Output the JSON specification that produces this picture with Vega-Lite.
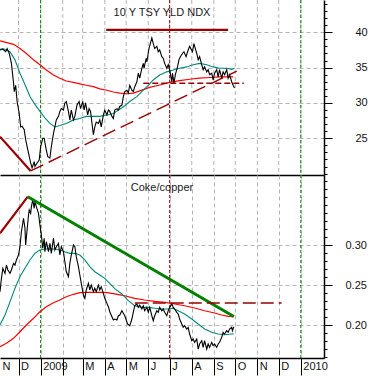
{
"$schema": "https://vega.github.io/schema/vega-lite/v6.json",
"padding": 0,
"spacing": 0,
"config": {"view": {"stroke": null}, "font": "Liberation Sans"},
"datasets": {
"vl": [{"d":"2009-01-01","k":"year"},{"d":"2010-01-01","k":"year"},{"d":"2009-07-01","k":"mid"}],
"months": [{"d":"2008-12-01"},{"d":"2009-01-01"},{"d":"2009-02-01"},{"d":"2009-03-01"},{"d":"2009-04-01"},{"d":"2009-05-01"},{"d":"2009-06-01"},{"d":"2009-07-01"},{"d":"2009-08-01"},{"d":"2009-09-01"},{"d":"2009-10-01"},{"d":"2009-11-01"},{"d":"2009-12-01"},{"d":"2010-01-01"}],
"t_px": [
{"d":"2008-11-05","v":37.5},{"d":"2008-11-09","v":37.6},{"d":"2008-11-13","v":37.25},{"d":"2008-11-15","v":37.7},{"d":"2008-11-18","v":37.0},{"d":"2008-11-21","v":35.6},{"d":"2008-11-24","v":32.8},{"d":"2008-11-25","v":31.6},{"d":"2008-11-27","v":32.5},{"d":"2008-11-29","v":30.2},
{"d":"2008-12-02","v":28.5},{"d":"2008-12-04","v":26.6},{"d":"2008-12-06","v":26.7},{"d":"2008-12-09","v":26.2},{"d":"2008-12-11","v":24.8},{"d":"2008-12-15","v":22.9},{"d":"2008-12-18","v":21.5},{"d":"2008-12-20","v":20.8},{"d":"2008-12-23","v":21.7},{"d":"2008-12-24","v":21.0},{"d":"2008-12-27","v":21.5},{"d":"2008-12-30","v":21.9},
{"d":"2009-01-01","v":23.8},{"d":"2009-01-04","v":25.0},{"d":"2009-01-06","v":25.0},{"d":"2009-01-08","v":23.8},{"d":"2009-01-11","v":22.4},{"d":"2009-01-14","v":22.2},{"d":"2009-01-16","v":23.8},{"d":"2009-01-19","v":25.7},{"d":"2009-01-21","v":26.6},{"d":"2009-01-23","v":27.6},{"d":"2009-01-26","v":28.1},{"d":"2009-01-28","v":28.8},{"d":"2009-01-30","v":29.2},
{"d":"2009-02-02","v":29.0},{"d":"2009-02-04","v":30.0},{"d":"2009-02-06","v":30.2},{"d":"2009-02-09","v":28.8},{"d":"2009-02-11","v":27.6},{"d":"2009-02-13","v":29.0},{"d":"2009-02-16","v":27.6},{"d":"2009-02-18","v":28.1},{"d":"2009-02-21","v":29.7},{"d":"2009-02-24","v":30.2},{"d":"2009-02-26","v":29.2},
{"d":"2009-03-01","v":30.2},{"d":"2009-03-03","v":29.0},{"d":"2009-03-05","v":30.0},{"d":"2009-03-08","v":28.3},{"d":"2009-03-10","v":29.2},{"d":"2009-03-12","v":28.8},{"d":"2009-03-16","v":25.5},{"d":"2009-03-18","v":26.6},{"d":"2009-03-20","v":27.3},{"d":"2009-03-23","v":27.1},{"d":"2009-03-25","v":27.6},{"d":"2009-03-27","v":26.6},{"d":"2009-03-30","v":28.3},
{"d":"2009-04-01","v":29.0},{"d":"2009-04-04","v":28.3},{"d":"2009-04-06","v":29.0},{"d":"2009-04-08","v":28.8},{"d":"2009-04-11","v":28.1},{"d":"2009-04-13","v":27.8},{"d":"2009-04-15","v":29.0},{"d":"2009-04-18","v":29.2},{"d":"2009-04-20","v":29.0},{"d":"2009-04-22","v":29.5},{"d":"2009-04-25","v":29.7},{"d":"2009-04-27","v":30.9},{"d":"2009-04-29","v":31.6},
{"d":"2009-05-02","v":31.8},{"d":"2009-05-04","v":31.4},{"d":"2009-05-06","v":32.5},{"d":"2009-05-09","v":31.8},{"d":"2009-05-11","v":31.6},{"d":"2009-05-13","v":32.3},{"d":"2009-05-16","v":33.0},{"d":"2009-05-18","v":34.2},{"d":"2009-05-20","v":33.5},{"d":"2009-05-23","v":34.9},{"d":"2009-05-25","v":35.6},{"d":"2009-05-26","v":34.9},{"d":"2009-05-29","v":36.3},{"d":"2009-05-30","v":35.8},
{"d":"2009-06-02","v":37.7},{"d":"2009-06-06","v":39.2},{"d":"2009-06-08","v":38.4},{"d":"2009-06-10","v":37.7},{"d":"2009-06-13","v":38.0},{"d":"2009-06-15","v":37.25},{"d":"2009-06-17","v":37.5},{"d":"2009-06-20","v":36.55},{"d":"2009-06-22","v":36.3},{"d":"2009-06-24","v":35.6},{"d":"2009-06-27","v":34.9},{"d":"2009-06-29","v":35.4},
{"d":"2009-07-01","v":34.7},{"d":"2009-07-04","v":33.0},{"d":"2009-07-05","v":34.2},{"d":"2009-07-07","v":32.8},{"d":"2009-07-09","v":34.0},{"d":"2009-07-12","v":35.1},{"d":"2009-07-14","v":36.1},{"d":"2009-07-16","v":36.55},{"d":"2009-07-19","v":37.0},{"d":"2009-07-21","v":37.25},{"d":"2009-07-24","v":36.55},{"d":"2009-07-27","v":37.5},{"d":"2009-07-29","v":38.0},
{"d":"2009-08-02","v":37.25},{"d":"2009-08-04","v":38.4},{"d":"2009-08-06","v":37.7},{"d":"2009-08-08","v":37.0},{"d":"2009-08-10","v":36.1},{"d":"2009-08-12","v":36.55},{"d":"2009-08-15","v":35.4},{"d":"2009-08-17","v":34.7},{"d":"2009-08-19","v":35.1},{"d":"2009-08-22","v":34.4},{"d":"2009-08-24","v":34.7},{"d":"2009-08-26","v":34.0},{"d":"2009-08-29","v":34.2},{"d":"2009-08-31","v":33.25},
{"d":"2009-09-02","v":34.2},{"d":"2009-09-05","v":34.7},{"d":"2009-09-07","v":33.7},{"d":"2009-09-09","v":34.7},{"d":"2009-09-12","v":33.5},{"d":"2009-09-14","v":34.4},{"d":"2009-09-16","v":34.0},{"d":"2009-09-19","v":34.7},{"d":"2009-09-21","v":33.5},{"d":"2009-09-23","v":34.0},{"d":"2009-09-26","v":33.0},{"d":"2009-09-28","v":32.5},{"d":"2009-09-30","v":32.1}
],
"t_ma50": [
{"d":"2008-11-05","v":37.6},{"d":"2008-11-09","v":37.7},{"d":"2008-11-19","v":37.25},{"d":"2008-11-26","v":36.1},{"d":"2008-12-03","v":34.2},{"d":"2008-12-10","v":32.6},{"d":"2008-12-17","v":30.9},{"d":"2008-12-24","v":29.8},{"d":"2008-12-31","v":28.8},{"d":"2009-01-07","v":27.9},{"d":"2009-01-14","v":27.1},{"d":"2009-01-21","v":26.6},{"d":"2009-01-28","v":26.8},{"d":"2009-02-06","v":27.1},{"d":"2009-02-16","v":27.6},{"d":"2009-02-25","v":27.8},{"d":"2009-03-06","v":28.1},{"d":"2009-03-16","v":28.1},{"d":"2009-03-25","v":28.1},{"d":"2009-04-04","v":28.3},{"d":"2009-04-13","v":28.5},{"d":"2009-04-22","v":29.1},{"d":"2009-04-29","v":29.6},{"d":"2009-05-06","v":30.2},{"d":"2009-05-16","v":30.9},{"d":"2009-05-25","v":31.8},{"d":"2009-06-01","v":32.5},{"d":"2009-06-08","v":33.25},{"d":"2009-06-17","v":33.96},{"d":"2009-06-27","v":34.4},{"d":"2009-07-06","v":34.67},{"d":"2009-07-15","v":34.9},{"d":"2009-07-25","v":35.1},{"d":"2009-08-03","v":35.4},{"d":"2009-08-12","v":35.6},{"d":"2009-08-22","v":35.4},{"d":"2009-08-31","v":35.1},{"d":"2009-09-09","v":34.9},{"d":"2009-09-19","v":34.9},{"d":"2009-09-26","v":34.76},{"d":"2009-09-30","v":34.9}
],
"t_ma200": [
{"d":"2008-11-05","v":38.8},{"d":"2008-11-24","v":38.3},{"d":"2008-12-03","v":37.7},{"d":"2008-12-12","v":37.0},{"d":"2008-12-22","v":36.1},{"d":"2008-12-31","v":35.4},{"d":"2009-01-09","v":34.67},{"d":"2009-01-19","v":33.96},{"d":"2009-01-28","v":33.5},{"d":"2009-02-06","v":33.1},{"d":"2009-02-16","v":32.9},{"d":"2009-02-25","v":32.7},{"d":"2009-03-06","v":32.5},{"d":"2009-03-16","v":32.3},{"d":"2009-03-25","v":32.0},{"d":"2009-04-04","v":31.8},{"d":"2009-04-13","v":31.55},{"d":"2009-04-22","v":31.4},{"d":"2009-05-02","v":31.3},{"d":"2009-05-11","v":31.4},{"d":"2009-05-20","v":31.7},{"d":"2009-06-03","v":32.2},{"d":"2009-06-17","v":32.54},{"d":"2009-07-01","v":32.9},{"d":"2009-07-15","v":33.15},{"d":"2009-07-29","v":33.35},{"d":"2009-08-12","v":33.5},{"d":"2009-08-26","v":33.6},{"d":"2009-09-09","v":33.7},{"d":"2009-09-19","v":33.7},{"d":"2009-09-28","v":33.7}
],
"t_tr": [
{"id":"down","d":"2008-11-05","v":25.23},{"id":"down","d":"2008-12-18","v":20.37},
{"id":"top","d":"2009-04-03","v":40.33},{"id":"top","d":"2009-09-21","v":40.33},
{"id":"up","d":"2008-12-18","v":20.37},{"id":"up","d":"2009-10-03","v":34.5},
{"id":"hz","d":"2009-05-25","v":32.78},{"id":"hz","d":"2009-10-13","v":32.78}
],
"b_px": [
{"d":"2008-11-05","v":0.2417},{"d":"2008-11-07","v":0.2584},{"d":"2008-11-09","v":0.2709},{"d":"2008-11-12","v":0.2646},{"d":"2008-11-14","v":0.275},{"d":"2008-11-16","v":0.2688},{"d":"2008-11-19","v":0.2646},{"d":"2008-11-21","v":0.2688},{"d":"2008-11-24","v":0.2771},{"d":"2008-11-26","v":0.275},{"d":"2008-11-28","v":0.2813},
{"d":"2008-12-01","v":0.2875},{"d":"2008-12-03","v":0.2979},{"d":"2008-12-05","v":0.3166},{"d":"2008-12-08","v":0.3334},{"d":"2008-12-10","v":0.3209},{"d":"2008-12-11","v":0.30},{"d":"2008-12-13","v":0.3188},{"d":"2008-12-15","v":0.3375},{"d":"2008-12-16","v":0.3438},{"d":"2008-12-18","v":0.3396},{"d":"2008-12-19","v":0.3479},{"d":"2008-12-21","v":0.3563},{"d":"2008-12-23","v":0.3459},{"d":"2008-12-24","v":0.3541},{"d":"2008-12-26","v":0.3479},{"d":"2008-12-29","v":0.3396},{"d":"2008-12-31","v":0.325},
{"d":"2009-01-02","v":0.3125},{"d":"2009-01-04","v":0.2959},{"d":"2009-01-06","v":0.3084},{"d":"2009-01-07","v":0.2916},{"d":"2009-01-09","v":0.3041},{"d":"2009-01-12","v":0.2916},{"d":"2009-01-14","v":0.3021},{"d":"2009-01-16","v":0.2896},{"d":"2009-01-19","v":0.3084},{"d":"2009-01-21","v":0.2938},{"d":"2009-01-23","v":0.2979},{"d":"2009-01-26","v":0.3021},{"d":"2009-01-28","v":0.2875},{"d":"2009-01-30","v":0.2979},
{"d":"2009-02-02","v":0.2916},{"d":"2009-02-04","v":0.2791},{"d":"2009-02-06","v":0.2666},{"d":"2009-02-09","v":0.2604},{"d":"2009-02-11","v":0.2771},{"d":"2009-02-13","v":0.2875},{"d":"2009-02-16","v":0.30},{"d":"2009-02-18","v":0.2979},{"d":"2009-02-20","v":0.2854},{"d":"2009-02-23","v":0.2729},{"d":"2009-02-25","v":0.2625},{"d":"2009-02-27","v":0.2521},
{"d":"2009-03-02","v":0.2375},{"d":"2009-03-04","v":0.2334},{"d":"2009-03-06","v":0.2438},{"d":"2009-03-09","v":0.2521},{"d":"2009-03-11","v":0.2438},{"d":"2009-03-13","v":0.25},{"d":"2009-03-16","v":0.2416},{"d":"2009-03-18","v":0.2459},{"d":"2009-03-20","v":0.2416},{"d":"2009-03-23","v":0.25},{"d":"2009-03-25","v":0.2438},{"d":"2009-03-27","v":0.2479},{"d":"2009-03-30","v":0.2396},
{"d":"2009-04-01","v":0.2334},{"d":"2009-04-04","v":0.2271},{"d":"2009-04-06","v":0.2229},{"d":"2009-04-08","v":0.2166},{"d":"2009-04-11","v":0.2104},{"d":"2009-04-13","v":0.2063},{"d":"2009-04-15","v":0.2075},{"d":"2009-04-18","v":0.2063},{"d":"2009-04-20","v":0.2116},{"d":"2009-04-22","v":0.2125},{"d":"2009-04-25","v":0.2179},{"d":"2009-04-29","v":0.2116},
{"d":"2009-05-03","v":0.2013},{"d":"2009-05-06","v":0.1991},{"d":"2009-05-09","v":0.2075},{"d":"2009-05-11","v":0.2159},{"d":"2009-05-13","v":0.2241},{"d":"2009-05-16","v":0.2263},{"d":"2009-05-18","v":0.2221},{"d":"2009-05-20","v":0.225},{"d":"2009-05-23","v":0.22},{"d":"2009-05-25","v":0.2241},{"d":"2009-05-27","v":0.2179},{"d":"2009-05-30","v":0.2221},
{"d":"2009-06-01","v":0.2159},{"d":"2009-06-03","v":0.2221},{"d":"2009-06-06","v":0.2116},{"d":"2009-06-08","v":0.2054},{"d":"2009-06-10","v":0.2116},{"d":"2009-06-13","v":0.2179},{"d":"2009-06-15","v":0.2159},{"d":"2009-06-17","v":0.2221},{"d":"2009-06-20","v":0.2179},{"d":"2009-06-22","v":0.22},{"d":"2009-06-24","v":0.2159},{"d":"2009-06-27","v":0.2116},{"d":"2009-06-29","v":0.2179},
{"d":"2009-07-01","v":0.2221},{"d":"2009-07-04","v":0.2263},{"d":"2009-07-06","v":0.2221},{"d":"2009-07-08","v":0.22},{"d":"2009-07-11","v":0.2159},{"d":"2009-07-13","v":0.2138},{"d":"2009-07-15","v":0.2075},{"d":"2009-07-18","v":0.2013},{"d":"2009-07-20","v":0.1971},{"d":"2009-07-22","v":0.1991},{"d":"2009-07-25","v":0.195},{"d":"2009-07-27","v":0.1971},{"d":"2009-07-29","v":0.1888},
{"d":"2009-08-01","v":0.1804},{"d":"2009-08-03","v":0.1825},{"d":"2009-08-05","v":0.1784},{"d":"2009-08-08","v":0.1825},{"d":"2009-08-10","v":0.1700},{"d":"2009-08-12","v":0.1763},{"d":"2009-08-15","v":0.1804},{"d":"2009-08-17","v":0.1720},{"d":"2009-08-19","v":0.1804},{"d":"2009-08-22","v":0.1700},{"d":"2009-08-24","v":0.1763},{"d":"2009-08-26","v":0.1721},{"d":"2009-08-29","v":0.1784},{"d":"2009-08-31","v":0.1741},
{"d":"2009-09-02","v":0.1763},{"d":"2009-09-05","v":0.1721},{"d":"2009-09-07","v":0.1763},{"d":"2009-09-09","v":0.1784},{"d":"2009-09-12","v":0.1846},{"d":"2009-09-14","v":0.1909},{"d":"2009-09-16","v":0.1888},{"d":"2009-09-19","v":0.1929},{"d":"2009-09-21","v":0.1909},{"d":"2009-09-23","v":0.195},{"d":"2009-09-26","v":0.1971},{"d":"2009-09-27","v":0.1929},{"d":"2009-09-29","v":0.1979}
],
"b_ma50": [
{"d":"2008-11-05","v":0.20},{"d":"2008-11-12","v":0.2125},{"d":"2008-11-19","v":0.229},{"d":"2008-11-26","v":0.2459},{"d":"2008-12-03","v":0.2604},{"d":"2008-12-10","v":0.2709},{"d":"2008-12-17","v":0.2813},{"d":"2008-12-24","v":0.2896},{"d":"2008-12-31","v":0.2938},{"d":"2009-01-07","v":0.295},{"d":"2009-01-14","v":0.295},{"d":"2009-01-21","v":0.295},{"d":"2009-01-28","v":0.2938},{"d":"2009-02-04","v":0.2916},{"d":"2009-02-11","v":0.2896},{"d":"2009-02-18","v":0.2896},{"d":"2009-02-25","v":0.2875},{"d":"2009-03-04","v":0.2813},{"d":"2009-03-11","v":0.2729},{"d":"2009-03-18","v":0.2666},{"d":"2009-03-25","v":0.2625},{"d":"2009-04-01","v":0.2584},{"d":"2009-04-08","v":0.2521},{"d":"2009-04-15","v":0.2455},{"d":"2009-04-25","v":0.2388},{"d":"2009-05-04","v":0.2304},{"d":"2009-05-13","v":0.2241},{"d":"2009-05-23","v":0.2221},{"d":"2009-06-01","v":0.2221},{"d":"2009-06-10","v":0.2209},{"d":"2009-06-20","v":0.22},{"d":"2009-06-29","v":0.22},{"d":"2009-07-06","v":0.2209},{"d":"2009-07-13","v":0.2179},{"d":"2009-07-22","v":0.2138},{"d":"2009-08-01","v":0.2075},{"d":"2009-08-10","v":0.2013},{"d":"2009-08-19","v":0.195},{"d":"2009-08-29","v":0.1909},{"d":"2009-09-07","v":0.1888},{"d":"2009-09-16","v":0.1879},{"d":"2009-09-26","v":0.1888},{"d":"2009-09-29","v":0.1888}
],
"b_ma200": [
{"d":"2008-11-05","v":0.1729},{"d":"2008-11-14","v":0.1771},{"d":"2008-11-24","v":0.1834},{"d":"2008-12-03","v":0.1916},{"d":"2008-12-12","v":0.20},{"d":"2008-12-22","v":0.2084},{"d":"2008-12-31","v":0.2166},{"d":"2009-01-09","v":0.2229},{"d":"2009-01-19","v":0.2279},{"d":"2009-01-28","v":0.2313},{"d":"2009-02-06","v":0.2354},{"d":"2009-02-16","v":0.2384},{"d":"2009-02-25","v":0.2404},{"d":"2009-03-06","v":0.2409},{"d":"2009-03-16","v":0.2409},{"d":"2009-03-25","v":0.2409},{"d":"2009-04-04","v":0.2404},{"d":"2009-04-13","v":0.2392},{"d":"2009-04-22","v":0.2378},{"d":"2009-04-29","v":0.2366},{"d":"2009-05-13","v":0.2334},{"d":"2009-05-27","v":0.2313},{"d":"2009-06-10","v":0.2296},{"d":"2009-06-24","v":0.2284},{"d":"2009-07-08","v":0.2263},{"d":"2009-07-22","v":0.2241},{"d":"2009-08-05","v":0.2213},{"d":"2009-08-19","v":0.2179},{"d":"2009-09-02","v":0.215},{"d":"2009-09-12","v":0.2125},{"d":"2009-09-21","v":0.2109},{"d":"2009-09-29","v":0.2104}
],
"b_tr": [
{"id":"rise","d":"2008-11-05","v":0.3146},{"id":"rise","d":"2008-12-14","v":0.3604},
{"id":"green","d":"2008-12-14","v":0.3604},{"id":"green","d":"2009-09-29","v":0.2106},
{"id":"hz","d":"2009-05-13","v":0.2275},{"id":"hz","d":"2009-12-05","v":0.2275}
]
},
"vconcat": [
{
"width": 324, "height": 175,
"title": {"text": "10 Y TSY YLD NDX", "anchor": "middle", "frame": "group", "offset": -27, "baseline": "alphabetic", "fontSize": 11, "fontWeight": "normal", "font": "Liberation Sans", "color": "#1a1a1a"},
"resolve": {"axis": {"y": "independent"}},
"encoding": {
  "x": {"field": "d", "type": "temporal",
   "scale": {"type": "utc", "domain": [{"year": 2008, "month": 11, "date": 5, "utc": true}, {"year": 2010, "month": 2, "date": 2, "hours": 12, "utc": true}]},
   "axis": {"orient": "bottom", "title": null, "labels": false, "ticks": false, "domain": true, "domainColor": "#000", "domainWidth": 1.5, "grid": false}}
},
"layer": [
{"data": {"name": "months"}, "mark": {"type": "rule", "stroke": "#b4b4b4", "strokeDash": [4, 3], "strokeWidth": 1, "clip": true},
 "encoding": {}},
{"data": {"name": "vl"}, "mark": {"type": "rule", "strokeDash": [3, 2], "strokeWidth": 1, "clip": true},
 "encoding": {
  "color": {"field": "k", "type": "nominal", "scale": {"domain": ["year", "mid"], "range": ["#008000", "#990000"]}, "legend": null}
 }},
{"data": {"name": "t_ma200"}, "mark": {"type": "line", "color": "#ff0000", "strokeWidth": 1.2, "clip": true},
 "encoding": {
  "y": {"field": "v", "type": "quantitative", "scale": {"domain": [19.8, 44.57], "nice": false, "zero": false},
   "axis": {"orient": "right", "title": null, "values": [25, 30, 35, 40], "tickSize": 8,
    "tickColor": "#000", "tickWidth": 1, "domainColor": "#000", "domainWidth": 1.5,
    "labelPadding": 23, "labelFontSize": 11, "labelFont": "Liberation Sans", "labelColor": "#111", "labelOverlap": false, "labelBound": false, "labelFlush": false,
    "grid": true, "gridColor": "#b4b4b4", "gridDash": [4, 3]}}}},
{"data": {"name": "t_ma50"}, "mark": {"type": "line", "color": "#00897b", "strokeWidth": 1.1, "clip": true},
 "encoding": {"y": {"field": "v", "type": "quantitative", "axis": null}}},
{"data": {"name": "t_px"}, "mark": {"type": "line", "color": "#000000", "strokeWidth": 1.1, "clip": true},
 "encoding": {"y": {"field": "v", "type": "quantitative",
   "axis": {"orient": "right", "title": null, "values": [20,21,22,23,24,26,27,28,29,31,32,33,34,36,37,38,39,41,42,43,44], "tickSize": 3, "tickColor": "#000", "tickWidth": 1, "domain": false, "labels": false, "grid": false}}}},
{"data": {"name": "t_tr"}, "transform": [{"filter": "datum.id == 'down' || datum.id == 'top'"}], "mark": {"type": "line", "color": "#990000", "strokeWidth": 2.2, "clip": true},
 "encoding": {"y": {"field": "v", "type": "quantitative", "axis": null}, "detail": {"field": "id"}}},
{"data": {"name": "t_tr"}, "transform": [{"filter": "datum.id == 'up'"}], "mark": {"type": "line", "color": "#990000", "strokeWidth": 1.4, "strokeDash": [14, 6], "clip": true},
 "encoding": {"y": {"field": "v", "type": "quantitative", "axis": null}}},
{"data": {"name": "t_tr"}, "transform": [{"filter": "datum.id == 'hz'"}], "mark": {"type": "line", "color": "#990000", "strokeWidth": 1.4, "strokeDash": [6, 3], "clip": true},
 "encoding": {"y": {"field": "v", "type": "quantitative", "axis": null}}}
]
},
{
"width": 324, "height": 183,
"title": {"text": "Coke/copper", "anchor": "middle", "frame": "group", "offset": -27, "baseline": "alphabetic", "fontSize": 11, "fontWeight": "normal", "font": "Liberation Sans", "color": "#1a1a1a"},
"resolve": {"axis": {"y": "independent"}},
"encoding": {
  "x": {"field": "d", "type": "temporal",
   "scale": {"type": "utc", "domain": [{"year": 2008, "month": 11, "date": 5, "utc": true}, {"year": 2010, "month": 2, "date": 2, "hours": 12, "utc": true}]},
   "axis": {"orient": "bottom", "title": null, "domain": true, "domainColor": "#000", "domainWidth": 1.5,
    "ticks": true, "tickSize": 17, "tickColor": "#000", "tickWidth": 1,
    "tickOpacity": {"condition": {"test": "utcmonth(datum.value) == 10 && utcyear(datum.value) == 2008", "value": 0}, "value": 1},
    "grid": true, "gridColor": "#b4b4b4", "gridDash": [4, 3], "gridWidth": 1,
    "gridOpacity": {"condition": {"test": "utcmonth(datum.value) == 10 && utcyear(datum.value) == 2008", "value": 0}, "value": 1},
    "labelExpr": "utcmonth(datum.value) == 0 ? utcFormat(datum.value, '%Y') : (utcmonth(datum.value) == 1 ? '' : slice('JFMAMJJASOND', utcmonth(datum.value), utcmonth(datum.value) + 1))",
    "labelAlign": "left", "labelBaseline": "top", "labelOffset": 2, "labelPadding": -15, "labelFontSize": 11, "labelFont": "Liberation Sans", "labelColor": "#111", "labelOverlap": "greedy", "labelSeparation": 0, "labelBound": false, "labelFlush": false,
    "values": [{"year":2008,"month":11,"date":5,"utc":true},{"year":2008,"month":12,"date":1,"utc":true},{"year":2009,"month":1,"date":1,"utc":true},{"year":2009,"month":2,"date":1,"utc":true},{"year":2009,"month":3,"date":1,"utc":true},{"year":2009,"month":4,"date":1,"utc":true},{"year":2009,"month":5,"date":1,"utc":true},{"year":2009,"month":6,"date":1,"utc":true},{"year":2009,"month":7,"date":1,"utc":true},{"year":2009,"month":8,"date":1,"utc":true},{"year":2009,"month":9,"date":1,"utc":true},{"year":2009,"month":10,"date":1,"utc":true},{"year":2009,"month":11,"date":1,"utc":true},{"year":2009,"month":12,"date":1,"utc":true},{"year":2010,"month":1,"date":1,"utc":true}]}}
},
"layer": [
{"data": {"name": "vl"}, "mark": {"type": "rule", "strokeDash": [3, 2], "strokeWidth": 1, "clip": true},
 "encoding": {
  "color": {"field": "k", "type": "nominal", "scale": {"domain": ["year", "mid"], "range": ["#008000", "#990000"]}, "legend": null}
 }},
{"data": {"name": "b_ma200"}, "mark": {"type": "line", "color": "#ff0000", "strokeWidth": 1.2, "clip": true},
 "encoding": {
  "y": {"field": "v", "type": "quantitative", "scale": {"domain": [0.1588, 0.3875], "nice": false, "zero": false},
   "axis": {"orient": "right", "title": null, "values": [0.20, 0.25, 0.30], "tickSize": 8, "format": ".2f",
    "tickColor": "#000", "tickWidth": 1, "domainColor": "#000", "domainWidth": 1.5,
    "labelPadding": 13, "labelFontSize": 11, "labelFont": "Liberation Sans", "labelColor": "#111", "labelOverlap": false, "labelBound": false, "labelFlush": false,
    "grid": true, "gridColor": "#b4b4b4", "gridDash": [4, 3]}}}},
{"data": {"name": "b_ma50"}, "mark": {"type": "line", "color": "#00897b", "strokeWidth": 1.1, "clip": true},
 "encoding": {"y": {"field": "v", "type": "quantitative", "axis": null}}},
{"data": {"name": "b_px"}, "mark": {"type": "line", "color": "#000000", "strokeWidth": 1.1, "clip": true},
 "encoding": {"y": {"field": "v", "type": "quantitative",
   "axis": {"orient": "right", "title": null, "values": [0.16,0.17,0.18,0.19,0.21,0.22,0.23,0.24,0.26,0.27,0.28,0.29,0.31,0.32,0.33,0.34,0.35,0.36,0.37,0.38], "tickSize": 3, "tickColor": "#000", "tickWidth": 1, "domain": false, "labels": false, "grid": false}}}},
{"data": {"name": "b_tr"}, "transform": [{"filter": "datum.id == 'rise'"}], "mark": {"type": "line", "color": "#990000", "strokeWidth": 2.2, "clip": true},
 "encoding": {"y": {"field": "v", "type": "quantitative", "axis": null}}},
{"data": {"name": "b_tr"}, "transform": [{"filter": "datum.id == 'green'"}], "mark": {"type": "line", "color": "#008000", "strokeWidth": 3, "clip": true},
 "encoding": {"y": {"field": "v", "type": "quantitative", "axis": null}}},
{"data": {"name": "b_tr"}, "transform": [{"filter": "datum.id == 'hz'"}], "mark": {"type": "line", "color": "#990000", "strokeWidth": 1.4, "strokeDash": [13, 5], "clip": true},
 "encoding": {"y": {"field": "v", "type": "quantitative", "axis": null}}}
]
}
]
}
